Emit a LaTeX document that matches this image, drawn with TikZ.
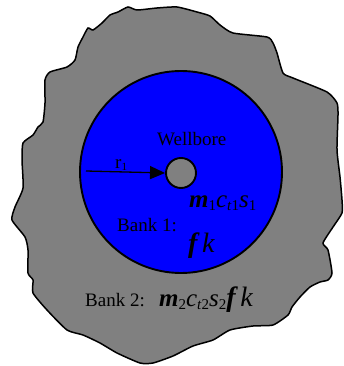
\documentclass[tikz,border=0pt]{standalone}
\usepackage{fontspec}
\setmainfont{Liberation Serif}
\usetikzlibrary{arrows.meta}
\definecolor{rock}{RGB}{128,128,128}
\definecolor{bankblue}{RGB}{0,0,255}
\newcommand{\bigtxt}{\fontsize{19}{22}\selectfont}
\newcommand{\mathtxt}{\fontsize{25}{28}\selectfont}
\newcommand{\subtxt}[1]{\raisebox{-0.3ex}{\fontsize{15}{17}\selectfont #1}}
\newcommand{\bm}[1]{{\bfseries\itshape #1}}
\tikzset{
  outline/.style={draw=black, line width=1.5pt},
  lbl/.style={inner sep=0pt, anchor=base west, text=black},
}
\begin{document}
\begin{tikzpicture}[x=1pt,y=-1pt]
\useasboundingbox (0,0) rectangle (343,366);
\draw[outline, fill=rock] plot[smooth cycle, tension=0.35] coordinates {
(45,80) (50,72) (67,67) (75,60) (78,47) (83,37) (88,28) (93,30) (102,23) (110,15) (118,12) (128,7) (137,10) (157,8) (177,7) (197,12) (210,16) (220,25) (233,33) (267,37) (273,43) (277,53) (283,73) (293,78) (327,92) (337,103) (338,115) (337,150) (340,177) (342,200) (342,213) (333,227) (323,243) (328,250) (332,273) (328,280) (320,282) (310,287) (300,297) (292,307) (288,315) (273,325) (253,326) (230,330) (213,340) (193,346) (173,356) (153,363) (140,363) (117,353) (100,343) (83,335) (67,330) (47,310) (33,293) (33,280) (28,273) (28,250) (25,237) (12,220) (15,207) (23,188) (22,160) (23,143) (33,135) (38,127) (43,122) (45,103)};
\node[draw=black, line width=1.9pt, fill=bankblue, circle, minimum size=202pt, inner sep=0pt] (bank1) at (181,172) {};
\node[draw=black, line width=1.9pt, fill=rock, circle, minimum size=30pt, inner sep=0pt] (well) at (181,173) {};
\coordinate (astart) at (86,171);
\draw[line width=1.3pt, -{Triangle[length=15pt,width=13pt]}] (astart) -- (well.west);
\node[lbl] (r1) at (115,168) {\bigtxt r\raisebox{-0.3ex}{\fontsize{11}{12}\selectfont 1}};
\node[lbl] (wb) at (157,146) {\bigtxt Wellbore};
\node[lbl] (b1) at (117,231) {\bigtxt Bank 1:};
\node[lbl] (p1) at (189,207) {\mathtxt\bm{m}\subtxt{1}\textit{c}\subtxt{\textit{t}1}\textit{s}\subtxt{1}};
\node[lbl] (p1b) at (188,252) {\fontsize{28}{30}\selectfont\bm{f}\,\textit{k}};
\node[lbl] (b2) at (85,306) {\bigtxt Bank 2:};
\node[lbl] (p2) at (159,306) {\mathtxt\bm{m}\subtxt{2}\textit{c}\subtxt{\textit{t}2}\textit{s}\subtxt{2}{\fontsize{28}{30}\selectfont\bm{f}\,\textit{k}}};
\end{tikzpicture}
\end{document}
